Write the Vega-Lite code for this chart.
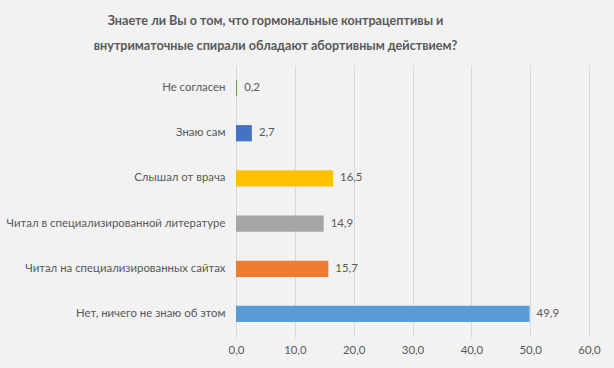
{
  "$schema": "https://vega.github.io/schema/vega-lite/v6.json",
  "width": 353,
  "height": 272,
  "autosize": {"type": "none"},
  "padding": {"left": 236, "top": 65, "right": 25, "bottom": 31},
  "background": "#f2f2f2",
  "title": {
    "text": ["Знаете ли Вы о том, что гормональные контрацептивы и", "внутриматочные спирали обладают абортивным действием?"],
    "anchor": "middle",
    "dx": -137,
    "offset": 12,
    "font": "Lato",
    "fontSize": 12.6,
    "fontWeight": "bold",
    "color": "#595959",
    "lineHeight": 25
  },
  "config": {
    "view": {"stroke": null},
    "locale": {"number": {"decimal": ",", "thousands": " ", "grouping": [3], "currency": ["", ""]}}
  },
  "data": {
    "values": [
      {"answer": "Не согласен", "value": 0.2, "color": "#70ad47"},
      {"answer": "Знаю сам", "value": 2.7, "color": "#4472c4"},
      {"answer": "Слышал от врача", "value": 16.5, "color": "#ffc000"},
      {"answer": "Читал в специализированной литературе", "value": 14.9, "color": "#a5a5a5"},
      {"answer": "Читал на специализированных сайтах", "value": 15.7, "color": "#ed7d31"},
      {"answer": "Нет, ничего не знаю об  этом", "value": 49.9, "color": "#5b9bd5"}
    ]
  },
  "encoding": {
    "y": {
      "field": "answer",
      "type": "nominal",
      "sort": null,
      "scale": {"paddingInner": 0.64, "paddingOuter": 0.33},
      "axis": {
        "title": null,
        "domain": false,
        "ticks": false,
        "labelPadding": 11,
        "labelFont": "Lato",
        "labelFontSize": 11.4,
        "labelColor": "#595959",
        "labelLimit": 300
      }
    },
    "x": {
      "field": "value",
      "type": "quantitative",
      "scale": {"domain": [0, 60]},
      "axis": {
        "title": null,
        "values": [0, 10, 20, 30, 40, 50, 60],
        "format": ".1f",
        "domain": false,
        "ticks": false,
        "labelFlush": false,
        "labelPadding": 7,
        "labelFont": "Lato",
        "labelFontSize": 11.4,
        "labelColor": "#595959",
        "gridColor": "#d9d9d9",
        "gridWidth": 1
      }
    }
  },
  "layer": [
    {
      "mark": {"type": "bar"},
      "encoding": {
        "color": {"field": "color", "type": "nominal", "scale": null, "legend": null}
      }
    },
    {
      "mark": {"type": "text", "align": "left", "dx": 7, "font": "Lato", "fontSize": 11.4, "color": "#595959"},
      "encoding": {
        "text": {"field": "value", "type": "quantitative", "format": ".1f"}
      }
    }
  ]
}
